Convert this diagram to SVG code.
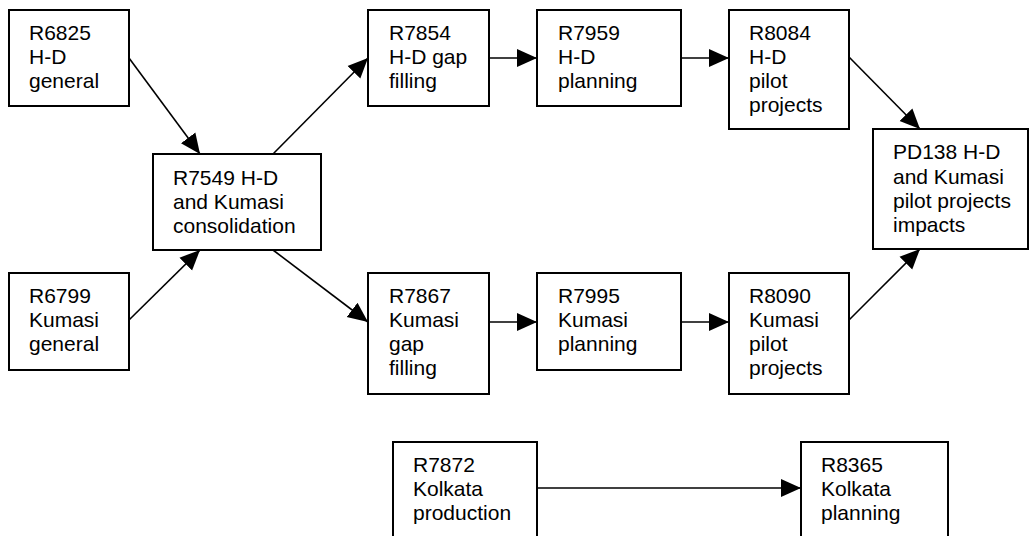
<svg xmlns="http://www.w3.org/2000/svg" width="1029" height="536" viewBox="0 0 1029 536">
<style>
.box{fill:#fff;stroke:#000;stroke-width:2}
.t{font-family:"Liberation Sans",Arial,sans-serif;font-size:21px;fill:#000}
.c{stroke:#000;stroke-width:1.6;fill:none;marker-end:url(#ah)}
</style>
<defs>
<marker id="ah" markerUnits="userSpaceOnUse" markerWidth="20" markerHeight="20" refX="20" refY="10" orient="auto" viewBox="0 0 20 20">
<path d="M0,1 L20,10 L0,19 z" fill="#000"/>
</marker>
</defs>
<rect width="1029" height="536" fill="#fff"/>
<g id="connectors">
<line class="c" x1="129" y1="58" x2="200" y2="154"/>
<line class="c" x1="129" y1="320" x2="200" y2="250"/>
<line class="c" x1="273" y1="154" x2="368" y2="58"/>
<line class="c" x1="273" y1="250" x2="368" y2="322"/>
<line class="c" x1="489" y1="58" x2="537" y2="58"/>
<line class="c" x1="681" y1="58" x2="729" y2="58"/>
<line class="c" x1="489" y1="322" x2="537" y2="322"/>
<line class="c" x1="681" y1="322" x2="729" y2="322"/>
<line class="c" x1="849" y1="57" x2="920" y2="129"/>
<line class="c" x1="849" y1="320" x2="920" y2="249"/>
<line class="c" x1="537" y1="488" x2="801" y2="488"/>
</g>
<g id="R6825">
<rect class="box" x="9" y="10" width="120" height="96"/>
<text class="t" x="29" y="40">R6825</text>
<text class="t" x="29" y="64">H-D</text>
<text class="t" x="29" y="88">general</text>
</g>
<g id="R6799">
<rect class="box" x="9" y="273" width="120" height="97"/>
<text class="t" x="29" y="303">R6799</text>
<text class="t" x="29" y="327">Kumasi</text>
<text class="t" x="29" y="351">general</text>
</g>
<g id="R7549">
<rect class="box" x="153" y="154" width="168" height="96"/>
<text class="t" x="173" y="185">R7549 H-D</text>
<text class="t" x="173" y="209">and Kumasi</text>
<text class="t" x="173" y="233">consolidation</text>
</g>
<g id="R7854">
<rect class="box" x="368" y="10" width="121" height="96"/>
<text class="t" x="389" y="40">R7854</text>
<text class="t" x="389" y="64">H-D gap</text>
<text class="t" x="389" y="88">filling</text>
</g>
<g id="R7959">
<rect class="box" x="537" y="10" width="144" height="96"/>
<text class="t" x="558" y="40">R7959</text>
<text class="t" x="558" y="64">H-D</text>
<text class="t" x="558" y="88">planning</text>
</g>
<g id="R8084">
<rect class="box" x="729" y="10" width="120" height="119"/>
<text class="t" x="749" y="40">R8084</text>
<text class="t" x="749" y="64">H-D</text>
<text class="t" x="749" y="88">pilot</text>
<text class="t" x="749" y="112">projects</text>
</g>
<g id="PD138">
<rect class="box" x="873" y="129" width="155" height="120"/>
<text class="t" x="893" y="159">PD138 H-D</text>
<text class="t" x="893" y="184">and Kumasi</text>
<text class="t" x="893" y="208">pilot projects</text>
<text class="t" x="893" y="232">impacts</text>
</g>
<g id="R7867">
<rect class="box" x="368" y="273" width="121" height="121"/>
<text class="t" x="389" y="303">R7867</text>
<text class="t" x="389" y="327">Kumasi</text>
<text class="t" x="389" y="351">gap</text>
<text class="t" x="389" y="375">filling</text>
</g>
<g id="R7995">
<rect class="box" x="537" y="273" width="144" height="97"/>
<text class="t" x="558" y="303">R7995</text>
<text class="t" x="558" y="327">Kumasi</text>
<text class="t" x="558" y="351">planning</text>
</g>
<g id="R8090">
<rect class="box" x="729" y="273" width="120" height="121"/>
<text class="t" x="749" y="303">R8090</text>
<text class="t" x="749" y="327">Kumasi</text>
<text class="t" x="749" y="351">pilot</text>
<text class="t" x="749" y="375">projects</text>
</g>
<g id="R7872">
<rect class="box" x="393" y="442" width="144" height="100"/>
<text class="t" x="413" y="472">R7872</text>
<text class="t" x="413" y="496">Kolkata</text>
<text class="t" x="413" y="520">production</text>
</g>
<g id="R8365">
<rect class="box" x="801" y="442" width="147" height="100"/>
<text class="t" x="821" y="472">R8365</text>
<text class="t" x="821" y="496">Kolkata</text>
<text class="t" x="821" y="520">planning</text>
</g>
</svg>
